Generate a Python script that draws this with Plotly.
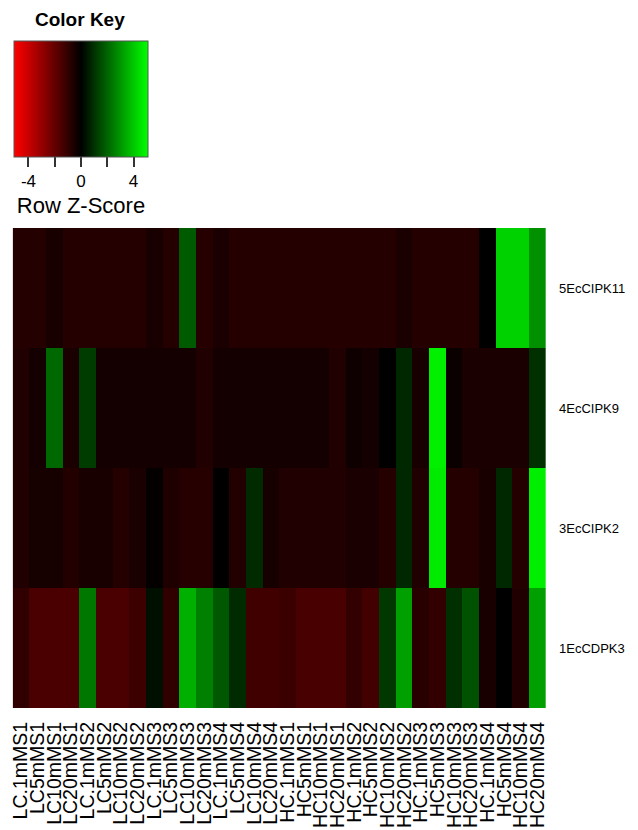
import plotly.graph_objects as go

# ---- data (row z-scores) ----
columns = ["LC.1mMS1", "LC5mMS1", "LC10mMS1", "LC20mMS1",
           "LC.1mMS2", "LC5mMS2", "LC10mMS2", "LC20mMS2",
           "LC.1mMS3", "LC5mMS3", "LC10mMS3", "LC20mMS3",
           "LC.1mMS4", "LC5mMS4", "LC10mMS4", "LC20mMS4",
           "HC.1mMS1", "HC5mMS1", "HC10mMS1", "HC20mMS1",
           "HC.1mMS2", "HC5mMS2", "HC10mMS2", "HC20mMS2",
           "HC.1mMS3", "HC5mMS3", "HC10mMS3", "HC20mMS3",
           "HC.1mMS4", "HC5mMS4", "HC10mMS4", "HC20mMS4"]

rows_top_down = ["5EcCIPK11", "4EcCIPK9", "3EcCIPK2", "1EcCDPK3"]

z_5EcCIPK11 = [-0.72, -0.72, -0.48, -0.72, -0.72, -0.72, -0.72, -0.72,
               -0.50, -0.72, 1.80, -0.76, -0.52, -0.72, -0.72, -0.72,
               -0.72, -0.72, -0.72, -0.72, -0.72, -0.72, -0.72, -0.52,
               -0.72, -0.72, -0.72, -0.72, -0.02, 4.20, 4.20, 2.88]
z_4EcCIPK9 = [-0.64, -0.40, 2.08, -0.52, 1.20, -0.40, -0.40, -0.40,
              -0.40, -0.40, -0.40, -0.64, -0.40, -0.40, -0.40, -0.40,
              -0.40, -0.40, -0.40, -0.64, -0.28, -0.40, -0.02, 0.80,
              -0.48, 4.80, -0.20, -0.52, -0.52, -0.52, -0.52, 0.96]
z_3EcCIPK2 = [-0.64, -0.44, -0.44, -0.68, -0.48, -0.48, -0.72, -0.52,
              -0.10, -0.60, -0.76, -0.76, 0.00, -0.68, 0.84, -0.44,
              -0.64, -0.64, -0.64, -0.64, -0.52, -0.52, -0.72, 0.80,
              -0.64, 4.70, -0.72, -0.72, -0.48, 0.80, -0.72, 4.75]
z_1EcCDPK3 = [-0.96, -1.48, -1.48, -1.48, 2.40, -1.48, -1.48, -1.20,
              0.32, -0.96, 3.52, 2.56, 1.76, 0.84, -1.28, -1.28,
              -1.16, -1.44, -1.44, -1.44, -1.00, -1.32, 1.12, 3.20,
              -0.80, -1.00, 0.96, 1.64, -0.48, 0.00, -0.64, 3.20]

key_min, key_max = -5.1, 5.1
key_ticks = [-4, -2, 0, 2, 4]
key_ticktext = ["-4", "", "0", "", "4"]

# ---- figure ----
# the page body has an 8px default margin, so the figure is drawn 8px in
OFF = 8
W, H = 638 - OFF, 830 - OFF
FONT = "Liberation Sans, Arial, sans-serif"


def px(x):
    return (x - OFF) / W


def py(y):
    return 1 - (y - OFF) / H


z_rows = [z_5EcCIPK11, z_4EcCIPK9, z_3EcCIPK2, z_1EcCDPK3]

fig = go.Figure()
fig.add_trace(go.Heatmap(
    z=z_rows,
    x=columns,
    y=rows_top_down,
    zmin=key_min, zmax=key_max,
    colorscale=[[0.0, "rgb(255,0,0)"], [0.5, "rgb(0,0,0)"], [1.0, "rgb(0,255,0)"]],
    xgap=0, ygap=0,
    showscale=True,
    colorbar=dict(
        orientation="h",
        x=px(14), xanchor="left", xref="paper",
        y=py(41), yanchor="top", yref="paper",
        len=134, lenmode="pixels",
        thickness=116, thicknessmode="pixels",
        xpad=0, ypad=0,
        outlinecolor="#555555", outlinewidth=1,
        ticks="outside", ticklen=10, tickwidth=2, tickcolor="#333333",
        tickmode="array", tickvals=key_ticks, ticktext=key_ticktext,
        tickfont=dict(size=17, color="black", family=FONT),
        title=dict(text="Row Z-Score", side="bottom",
                   font=dict(size=22, color="black", family=FONT)),
    ),
))

fig.add_annotation(
    text="<b>Color Key</b>", x=px(80), y=py(19),
    xref="paper", yref="paper", showarrow=False,
    xanchor="center", yanchor="middle",
    font=dict(size=19, color="black", family=FONT),
)

fig.update_layout(
    width=W, height=H,
    margin=dict(l=0, r=0, t=0, b=0, autoexpand=False),
    paper_bgcolor="white", plot_bgcolor="white",
    font=dict(family=FONT, color="black"),
    template="none",
    xaxis=dict(
        domain=[px(12.67), px(546)],
        tickmode="array", tickvals=columns, ticktext=columns,
        tickangle=-90, tickfont=dict(size=19.5),
        ticks="", ticklabelstandoff=9,
        showgrid=False, zeroline=False, showline=False, automargin=False,
    ),
    yaxis=dict(
        domain=[py(708), py(228)],
        side="right", autorange="reversed",
        tickfont=dict(size=13),
        ticks="", ticklabelstandoff=12,
        showgrid=False, zeroline=False, showline=False, automargin=False,
    ),
)

fig.write_html("out.html")
